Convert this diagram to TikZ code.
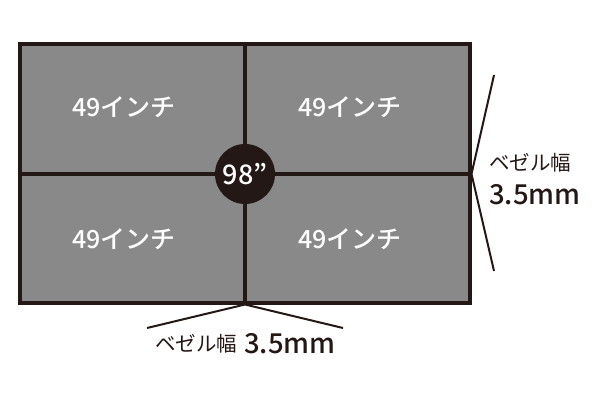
\documentclass[tikz,border=0pt]{standalone}
\usepackage{fontspec}
\setmainfont{Noto Sans CJK JP}
\newfontfamily\medfont[UprightFont=* Medium]{Noto Sans CJK JP}
\definecolor{bz}{HTML}{231815}
\definecolor{panel}{HTML}{898989}
\begin{document}
\begin{tikzpicture}[x=1pt,y=-1pt,
  frame/.style={draw=bz,line width=3.5pt},
  divider/.style={draw=bz,line width=3.5pt},
  pointer/.style={draw=bz,line width=2pt},
  inch/.style={text=white,font=\medfont\fontsize{25}{25}\selectfont,inner sep=0pt},
  bez/.style={text=bz,font=\fontsize{20.5}{20.5}\selectfont,inner sep=0pt,anchor=west},
  mm/.style={text=bz,font=\medfont\fontsize{27.5}{27.5}\selectfont,inner sep=0pt,anchor=west}]
\useasboundingbox (0,0) rectangle (601,401);
\coordinate (tl) at (20,44);
\coordinate (br) at (470,303);
\coordinate (c) at (245,174);
\coordinate (tm) at (245,44);
\coordinate (bm) at (245,303);
\coordinate (lm) at (20,174);
\coordinate (rm) at (470,174);
\fill[panel] (tl) rectangle (br);
\draw[divider] (tm) -- (bm);
\draw[divider] (lm) -- (rm);
\draw[frame] (tl) rectangle (br);
\node[circle,fill=bz,minimum size=60pt,inner sep=0pt,text=white,font=\medfont\fontsize{27}{27}\selectfont] (badge) at (c) {98”};
\node[inch] (q1) at (124,107) {49インチ};
\node[inch] (q2) at (350,107) {49インチ};
\node[inch] (q3) at (124,239) {49インチ};
\node[inch] (q4) at (350,239) {49インチ};
\coordinate (rt) at (494,75);
\coordinate (rb) at (494,271);
\coordinate (bl) at (147,328);
\coordinate (bR) at (343,328);
\draw[pointer] (rt) -- (471.5,174) -- (rb);
\draw[pointer] (bl) -- (245,304.5) -- (bR);
\node[bez] (rlab) at (489,163) {ベゼル幅};
\node[mm] (rmm) at (489,195) {3.5mm};
\node[bez] (blab) at (155,344) {ベゼル幅};
\node[mm] (bmm) at (244,344) {3.5mm};
\end{tikzpicture}
\end{document}
